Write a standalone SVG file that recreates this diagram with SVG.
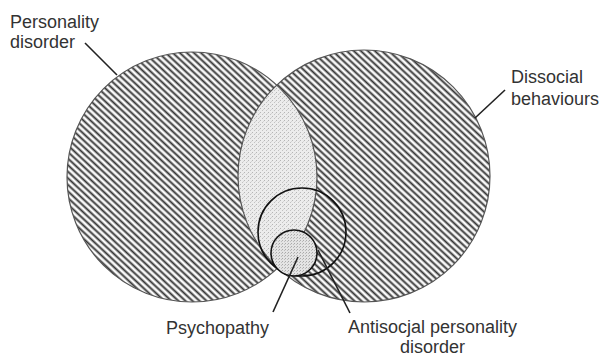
<svg xmlns="http://www.w3.org/2000/svg" width="603" height="356" viewBox="0 0 603 356">
  <style>
    .lbl { font-family: "Liberation Sans", Arial, sans-serif; font-size: 18px; fill: #333; }
    .edge { fill: none; stroke: #555; stroke-width: 1.2; }
    .ring { fill: none; stroke: #111; stroke-width: 1.6; }
    .lead { stroke: #222; stroke-width: 1.6; fill: none; }
  </style>
  <defs>
    <pattern id="hatch" patternUnits="userSpaceOnUse" width="10" height="4.8" patternTransform="rotate(43)">
      <rect width="10" height="4.8" fill="#fafafa"/>
      <line x1="0" y1="2.4" x2="10" y2="2.4" stroke="#333" stroke-width="1.9"/>
    </pattern>
    <pattern id="stipple" patternUnits="userSpaceOnUse" width="4" height="4">
      <rect width="4" height="4" fill="#ececec"/>
      <rect x="0" y="0" width="1" height="1" fill="#b5b5b5"/>
      <rect x="2" y="2" width="1" height="1" fill="#c2c2c2"/>
      <rect x="3" y="1" width="1" height="1" fill="#d4d4d4"/>
    </pattern>
    <pattern id="stipple2" patternUnits="userSpaceOnUse" width="3" height="3">
      <rect width="3" height="3" fill="#e4e4e4"/>
      <rect x="0" y="0" width="1" height="1" fill="#aaa"/>
      <rect x="2" y="1" width="1" height="1" fill="#bdbdbd"/>
    </pattern>
    <clipPath id="clipLeft">
      <circle cx="192" cy="177" r="125"/>
    </clipPath>
  </defs>

  <g id="personality-disorder">
    <circle cx="192" cy="177" r="125" fill="url(#hatch)"/>
  </g>
  <g id="dissocial-behaviours">
    <circle cx="364" cy="176" r="126" fill="url(#hatch)"/>
  </g>
  <g id="overlap">
    <circle cx="364" cy="176" r="126" fill="url(#stipple)" clip-path="url(#clipLeft)"/>
  </g>
  <g id="outlines">
    <circle class="edge" cx="192" cy="177" r="125"/>
    <circle class="edge" cx="364" cy="176" r="126"/>
  </g>
  <g id="antisocial-personality-disorder">
    <circle class="ring" cx="302" cy="232" r="44"/>
  </g>
  <g id="psychopathy">
    <circle cx="294" cy="253" r="23" fill="url(#stipple2)"/>
    <circle class="ring" cx="294" cy="253" r="23"/>
  </g>

  <g id="connectors">
    <line class="lead" x1="85" y1="43" x2="117" y2="75"/>
    <line class="lead" x1="505" y1="90" x2="475" y2="118"/>
    <line class="lead" x1="273" y1="312" x2="298" y2="257"/>
    <line class="lead" x1="350" y1="313" x2="318" y2="250"/>
  </g>

  <g id="labels">
    <text class="lbl" x="10" y="28">Personality</text>
    <text class="lbl" x="10" y="48">disorder</text>
    <text class="lbl" x="511" y="83">Dissocial</text>
    <text class="lbl" x="511" y="105">behaviours</text>
    <text class="lbl" x="217.5" y="334" text-anchor="middle">Psychopathy</text>
    <text class="lbl" x="432.5" y="333" text-anchor="middle">Antisocjal personality</text>
    <text class="lbl" x="432.5" y="353" text-anchor="middle">disorder</text>
  </g>
</svg>
